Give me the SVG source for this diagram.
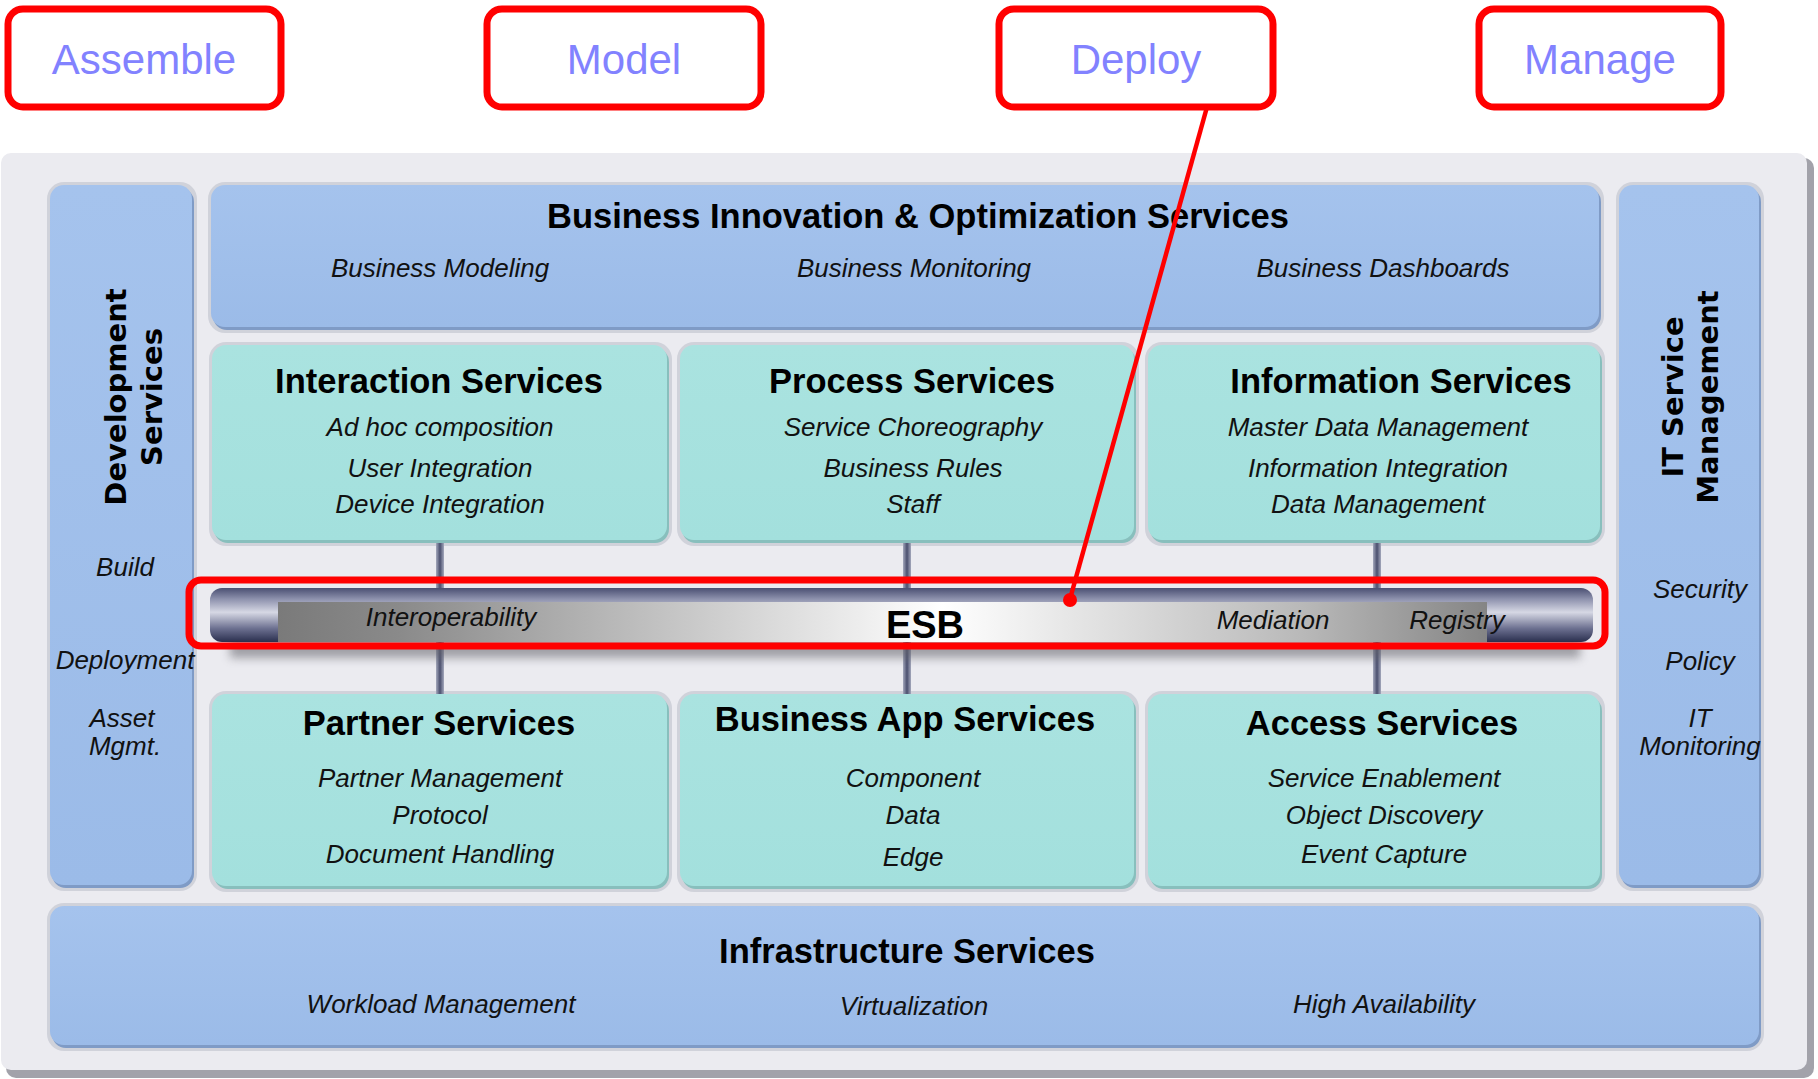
<svg xmlns="http://www.w3.org/2000/svg" width="1818" height="1079" viewBox="0 0 1818 1079">
<defs>
<linearGradient id="gBlue" x1="0" y1="0" x2="0" y2="1"><stop offset="0" stop-color="#a5c3ed"/><stop offset="1" stop-color="#9bbbe8"/></linearGradient>
<linearGradient id="gTeal" x1="0" y1="0" x2="0" y2="1"><stop offset="0" stop-color="#aae3e0"/><stop offset="1" stop-color="#a3e0dd"/></linearGradient>
<linearGradient id="gTube" x1="0" y1="0" x2="0" y2="1"><stop offset="0" stop-color="#4a4f72"/><stop offset="0.2" stop-color="#8c90ac"/><stop offset="0.45" stop-color="#d6d8e4"/><stop offset="0.75" stop-color="#6c7090"/><stop offset="1" stop-color="#2a2f4e"/></linearGradient>
<linearGradient id="gInner" x1="0" y1="0" x2="1" y2="0"><stop offset="0" stop-color="#7a7a7a"/><stop offset="0.1" stop-color="#8a8a8a"/><stop offset="0.55" stop-color="#ffffff"/><stop offset="0.85" stop-color="#b8b8b8"/><stop offset="1" stop-color="#858585"/></linearGradient>
<linearGradient id="gBar" x1="0" y1="0" x2="1" y2="0"><stop offset="0" stop-color="#a4a8bc"/><stop offset="0.5" stop-color="#4a4f6e"/><stop offset="1" stop-color="#a4a8bc"/></linearGradient>
<filter id="blur" x="-10%" y="-100%" width="120%" height="300%"><feGaussianBlur stdDeviation="5"/></filter>
<style>
.halo{fill:#d0d2da}
.blue{fill:url(#gBlue)}
.blueEdge{fill:#7f9bc6}
.teal{fill:url(#gTeal)}
.tealEdge{fill:#88bfbd}
text{font-family:"Liberation Sans",Arial,sans-serif}
.title{font-weight:bold;font-size:34.5px;text-anchor:middle;fill:#000}
.it{font-style:italic;font-size:26px;text-anchor:middle;fill:#111}
.rot{font-family:"DejaVu Sans",Verdana,sans-serif;font-weight:bold;font-size:29px;text-anchor:middle;fill:#000}
.btn{fill:#fff;stroke:#ff0000;stroke-width:7}
.btnt{font-size:42px;fill:#8282ff;text-anchor:middle}
.bar{fill:url(#gBar)}
</style>
</defs>

<g id="panel">
<rect x="6" y="158" width="1808" height="920" rx="10" fill="#a2a2aa"/>
<rect x="1" y="153" width="1806" height="917" rx="10" fill="#ebebf0"/>
</g>

<g id="btn-assemble"><rect class="btn" x="8" y="9" width="273" height="98" rx="15"/><text class="btnt" x="144" y="74">Assemble</text></g>
<g id="btn-model"><rect class="btn" x="487" y="9" width="274" height="98" rx="15"/><text class="btnt" x="624" y="74">Model</text></g>
<g id="btn-deploy"><rect class="btn" x="999" y="9" width="274" height="98" rx="15"/><text class="btnt" x="1136" y="74">Deploy</text></g>
<g id="btn-manage"><rect class="btn" x="1479" y="9" width="242" height="98" rx="15"/><text class="btnt" x="1600" y="74">Manage</text></g>

<g id="development">
<rect class="halo" x="47" y="182" width="150" height="709" rx="17"/>
<rect class="blueEdge" x="52" y="188" width="142" height="700" rx="14"/>
<rect class="blue" x="50" y="185" width="142" height="700" rx="14"/>
<text class="rot" transform="translate(126,397) rotate(-90)">Development</text>
<text class="rot" transform="translate(162,397) rotate(-90)">Services</text>
<text class="it" x="125" y="576">Build</text>
<text class="it" x="125" y="669">Deployment</text>
<text class="it" x="122" y="727">Asset</text>
<text class="it" x="125" y="755">Mgmt.</text>
</g>

<g id="itsm">
<rect class="halo" x="1616" y="182" width="148" height="709" rx="17"/>
<rect class="blueEdge" x="1621" y="188" width="140" height="700" rx="14"/>
<rect class="blue" x="1619" y="185" width="140" height="700" rx="14"/>
<text class="rot" transform="translate(1683,397) rotate(-90)">IT Service</text>
<text class="rot" transform="translate(1718,397) rotate(-90)">Management</text>
<text class="it" x="1700" y="598">Security</text>
<text class="it" x="1700" y="670">Policy</text>
<text class="it" x="1700" y="727">IT</text>
<text class="it" x="1700" y="755">Monitoring</text>
</g>

<g id="bios">
<rect class="halo" x="208" y="182" width="1396" height="151" rx="17"/>
<rect class="blueEdge" x="213" y="188" width="1388" height="142" rx="14"/>
<rect class="blue" x="211" y="185" width="1388" height="142" rx="14"/>
<text class="title" x="918" y="228">Business Innovation &amp; Optimization Services</text>
<text class="it" x="440" y="277">Business Modeling</text>
<text class="it" x="914" y="277">Business Monitoring</text>
<text class="it" x="1383" y="277">Business Dashboards</text>
</g>

<g id="interaction">
<rect class="halo" x="209" y="342" width="463" height="204" rx="17"/>
<rect class="tealEdge" x="214" y="348" width="455" height="195" rx="14"/>
<rect class="teal" x="212" y="345" width="455" height="195" rx="14"/>
<text class="title" x="439" y="393">Interaction Services</text>
<text class="it" x="440" y="436">Ad hoc composition</text>
<text class="it" x="440" y="477">User Integration</text>
<text class="it" x="440" y="513">Device Integration</text>
</g>

<g id="process">
<rect class="halo" x="677" y="342" width="462" height="204" rx="17"/>
<rect class="tealEdge" x="682" y="348" width="454" height="195" rx="14"/>
<rect class="teal" x="680" y="345" width="454" height="195" rx="14"/>
<text class="title" x="912" y="393">Process Services</text>
<text class="it" x="913" y="436">Service Choreography</text>
<text class="it" x="913" y="477">Business Rules</text>
<text class="it" x="913" y="513">Staff</text>
</g>

<g id="information">
<rect class="halo" x="1145" y="342" width="460" height="204" rx="17"/>
<rect class="tealEdge" x="1150" y="348" width="452" height="195" rx="14"/>
<rect class="teal" x="1148" y="345" width="452" height="195" rx="14"/>
<text class="title" x="1401" y="393">Information Services</text>
<text class="it" x="1378" y="436">Master Data Management</text>
<text class="it" x="1378" y="477">Information Integration</text>
<text class="it" x="1378" y="513">Data Management</text>
</g>

<g id="partner">
<rect class="halo" x="209" y="691" width="463" height="201" rx="17"/>
<rect class="tealEdge" x="214" y="697" width="455" height="192" rx="14"/>
<rect class="teal" x="212" y="694" width="455" height="192" rx="14"/>
<text class="title" x="439" y="735">Partner Services</text>
<text class="it" x="440" y="787">Partner Management</text>
<text class="it" x="440" y="824">Protocol</text>
<text class="it" x="440" y="863">Document Handling</text>
</g>

<g id="bizapp">
<rect class="halo" x="677" y="691" width="462" height="201" rx="17"/>
<rect class="tealEdge" x="682" y="697" width="454" height="192" rx="14"/>
<rect class="teal" x="680" y="694" width="454" height="192" rx="14"/>
<text class="title" x="905" y="731">Business App Services</text>
<text class="it" x="913" y="787">Component</text>
<text class="it" x="913" y="824">Data</text>
<text class="it" x="913" y="866">Edge</text>
</g>

<g id="access">
<rect class="halo" x="1145" y="691" width="460" height="201" rx="17"/>
<rect class="tealEdge" x="1150" y="697" width="452" height="192" rx="14"/>
<rect class="teal" x="1148" y="694" width="452" height="192" rx="14"/>
<text class="title" x="1382" y="735">Access Services</text>
<text class="it" x="1384" y="787">Service Enablement</text>
<text class="it" x="1384" y="824">Object Discovery</text>
<text class="it" x="1384" y="863">Event Capture</text>
</g>

<g id="infrastructure">
<rect class="halo" x="47" y="903" width="1717" height="148" rx="17"/>
<rect class="blueEdge" x="52" y="909" width="1709" height="139" rx="14"/>
<rect class="blue" x="50" y="906" width="1709" height="139" rx="14"/>
<text class="title" x="907" y="963">Infrastructure Services</text>
<text class="it" x="441" y="1013">Workload Management</text>
<text class="it" x="914" y="1015">Virtualization</text>
<text class="it" x="1384" y="1013">High Availability</text>
</g>

<g id="connectors">
<rect class="bar" x="436" y="543" width="8" height="46"/>
<rect class="bar" x="903" y="543" width="8" height="46"/>
<rect class="bar" x="1373" y="543" width="8" height="46"/>
<rect class="bar" x="436" y="642" width="8" height="52"/>
<rect class="bar" x="903" y="642" width="8" height="52"/>
<rect class="bar" x="1373" y="642" width="8" height="52"/>
</g>

<g id="esb">
<rect x="230" y="640" width="1350" height="18" fill="#606068" opacity="0.55" filter="url(#blur)"/>
<rect x="210" y="588" width="1383" height="54" rx="12" fill="url(#gTube)"/>
<rect x="278" y="602" width="1209" height="40" fill="url(#gInner)"/>
<text class="it" x="451" y="626">Interoperability</text>
<text x="925" y="638" font-weight="bold" font-size="38" text-anchor="middle" fill="#000">ESB</text>
<text class="it" x="1273" y="629">Mediation</text>
<text class="it" x="1457" y="629">Registry</text>
<rect x="189" y="580" width="1416" height="66" rx="12" fill="none" stroke="#ff0000" stroke-width="7"/>
</g>

<g id="deploy-link">
<line x1="1207" y1="107" x2="1070" y2="599" stroke="#ff0000" stroke-width="4.5"/>
<circle cx="1070" cy="600" r="7" fill="#ff0000"/>
</g>
</svg>
